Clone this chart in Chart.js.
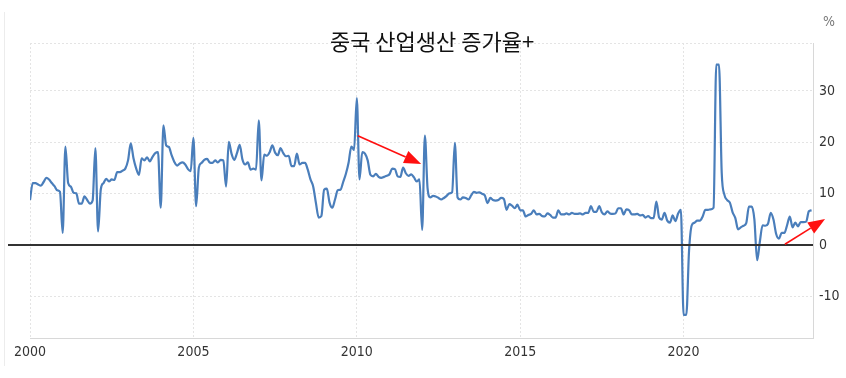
<!DOCTYPE html>
<html>
<head>
<meta charset="utf-8">
<script src="https://cdn.jsdelivr.net/npm/chart.js@4.4.1/dist/chart.umd.min.js"></script>
<style>
  html, body { margin: 0; padding: 0; background: #fff; }
  canvas { display: block; }
</style>
</head>
<body>
<canvas id="ipChart" width="846" height="378"></canvas>
<script>
// China industrial production, YoY %, monthly, Jan..Dec per year
const y2000 = [8.8, 12.1, 12.1, 11.8, 11.6, 12.3, 13.1, 12.8, 12.1, 11.5, 10.7, 10.4];
const y2001 = [2.4, 19.2, 12.1, 11.4, 10.2, 10.1, 8.1, 8.1, 9.5, 8.8, 8.1, 8.7];
const y2002 = [18.9, 2.7, 10.9, 12.1, 12.9, 12.4, 12.8, 12.7, 14.2, 14.2, 14.5, 14.9];
const y2003 = [16.5, 19.8, 16.9, 14.9, 13.7, 16.9, 16.5, 17.1, 16.3, 17.2, 17.9, 18.1];
const y2004 = [7.3, 23.3, 19.4, 19.1, 17.5, 16.2, 15.5, 15.9, 16.1, 15.7, 14.8, 14.4];
const y2005 = [20.9, 7.6, 15.1, 16.0, 16.6, 16.8, 16.1, 16.0, 16.5, 16.1, 16.6, 16.5];
const y2006 = [11.4, 20.1, 17.8, 16.6, 17.9, 19.5, 16.7, 15.7, 16.1, 14.7, 14.9, 14.7];
const y2007 = [24.3, 12.6, 17.6, 17.4, 18.1, 19.4, 18.0, 17.5, 18.9, 17.9, 17.3, 17.4];
const y2008 = [15.4, 15.4, 17.8, 15.7, 16.0, 16.0, 14.7, 12.8, 11.4, 8.2, 5.4, 5.7];
const y2009 = [10.8, 11.0, 8.3, 7.3, 8.9, 10.7, 10.8, 12.3, 13.9, 16.1, 19.2, 18.5];
const y2010 = [28.6, 12.8, 18.1, 17.8, 16.5, 13.7, 13.4, 13.9, 13.3, 13.1, 13.3, 13.5];
const y2011 = [13.8, 14.9, 14.8, 13.4, 13.3, 15.1, 14.0, 13.5, 13.8, 13.2, 12.4, 12.8];
const y2012 = [3.0, 21.3, 11.0, 9.3, 9.6, 9.5, 9.2, 8.9, 9.2, 9.6, 10.1, 10.3];
const y2013 = [19.9, 9.3, 8.9, 9.3, 9.2, 8.9, 9.7, 10.4, 10.2, 10.3, 10.0, 9.7];
const y2014 = [8.2, 9.2, 8.8, 8.7, 8.8, 9.2, 9.0, 6.9, 8.0, 7.7, 7.2, 7.9];
const y2015 = [6.8, 6.8, 5.6, 5.9, 6.1, 6.8, 6.0, 6.1, 5.7, 5.6, 6.2, 5.9];
const y2016 = [5.4, 5.4, 6.8, 6.0, 6.0, 6.2, 6.0, 6.3, 6.1, 6.1, 6.2, 6.0];
const y2017 = [6.3, 6.3, 7.6, 6.5, 6.5, 7.6, 6.4, 6.0, 6.6, 6.2, 6.1, 6.2];
const y2018 = [7.2, 7.2, 6.0, 7.0, 6.8, 6.0, 6.0, 6.1, 5.8, 5.9, 5.4, 5.7];
const y2019 = [5.3, 5.3, 8.5, 5.4, 5.0, 6.3, 4.8, 4.4, 5.8, 4.7, 6.2, 6.9];
const y2020 = [-13.5, -13.5, -1.1, 3.9, 4.4, 4.8, 4.8, 5.6, 6.9, 6.9, 7.0, 7.3];
const y2021 = [35.1, 35.1, 14.1, 9.8, 8.8, 8.3, 6.4, 5.3, 3.1, 3.5, 3.8, 4.3];
const y2022 = [7.5, 7.5, 5.0, -2.9, 0.7, 3.9, 3.8, 4.2, 6.3, 5.0, 2.2, 1.3];
const y2023 = [2.4, 2.4, 3.9, 5.6, 3.5, 4.4, 3.7, 4.5, 4.5, 4.6, 6.6, 6.8];

const startYear = 2000;
const series = [y2000, y2001, y2002, y2003, y2004, y2005, y2006, y2007, y2008, y2009, y2010, y2011,
                y2012, y2013, y2014, y2015, y2016, y2017, y2018, y2019, y2020, y2021, y2022, y2023];

const yearTicks = [2000, 2005, 2010, 2015, 2020];
const valueTicks = [-10, 0, 10, 20, 30];
const xMin = 2000, xMax = 2023.96;
const yMin = -18, yMax = 39.3;

const titleText = '중국 산업생산 증가율+';
const unitText = '%';

// red arrows, in data units [year, value]
const arrows = [
    { from: [2010.03, 21.3], to: [2011.97, 15.8] },
    { from: [2023.10, 0.2], to: [2024.33, 5.1] }
];

const points = [];
series.forEach(function (vals, i) {
    vals.forEach(function (v, j) {
        points.push({ x: startYear + i + j / 12, y: v });
    });
});

const tickFont = { family: "'Liberation Sans Narrow', 'Arial Narrow', 'DejaVu Sans Condensed', sans-serif", size: 14 };
const gridColor = '#e4e4e4';

const overlay = {
    id: 'overlay',
    afterDatasetsDraw(chart) {
        const c = chart.ctx;
        const xs = chart.scales.x, ys = chart.scales.y;
        const area = chart.chartArea;
        c.save();

        // faint frame line at the left
        c.strokeStyle = '#ececec';
        c.lineWidth = 1;
        c.beginPath();
        c.moveTo(4.5, 12);
        c.lineTo(4.5, 366);
        c.stroke();

        // zero line
        const y0 = Math.round(ys.getPixelForValue(0));
        c.strokeStyle = '#333';
        c.lineWidth = 2;
        c.beginPath();
        c.moveTo(8, y0);
        c.lineTo(area.right, y0);
        c.stroke();

        // arrows
        c.strokeStyle = '#ff1010';
        c.fillStyle = '#ff1010';
        arrows.forEach(function (a) {
            const x1 = xs.getPixelForValue(a.from[0]), y1 = ys.getPixelForValue(a.from[1]);
            const x2 = xs.getPixelForValue(a.to[0]), y2 = ys.getPixelForValue(a.to[1]);
            const ang = Math.atan2(y2 - y1, x2 - x1);
            const len = 17, half = 6.5;
            const bx = x2 - len * Math.cos(ang), by = y2 - len * Math.sin(ang);
            c.lineWidth = 1.6;
            c.beginPath();
            c.moveTo(x1, y1);
            c.lineTo(bx, by);
            c.stroke();
            c.beginPath();
            c.moveTo(x2, y2);
            c.lineTo(bx + half * Math.sin(ang), by - half * Math.cos(ang));
            c.lineTo(bx - half * Math.sin(ang), by + half * Math.cos(ang));
            c.closePath();
            c.fill();
        });

        // title
        c.fillStyle = '#111';
        c.font = "22px 'Noto Sans CJK KR', sans-serif";
        c.textAlign = 'center';
        c.textBaseline = 'middle';
        c.fillText(titleText, 432, 42);

        // unit
        c.fillStyle = '#777';
        c.font = "14px 'Liberation Sans Narrow', 'Arial Narrow', 'DejaVu Sans Condensed', sans-serif";
        c.textAlign = 'left';
        c.fillText(unitText, 823, 22);

        c.restore();
    }
};

new Chart(document.getElementById('ipChart'), {
    type: 'line',
    data: {
        datasets: [{
            label: 'IP YoY',
            data: points,
            borderColor: '#4a7ebb',
            borderWidth: 2.2,
            pointRadius: 0,
            cubicInterpolationMode: 'monotone',
            fill: false
        }]
    },
    options: {
        responsive: false,
        animation: false,
        devicePixelRatio: 1,
        layout: { padding: { left: 30, top: 43, right: 0, bottom: 0 } },
        plugins: {
            legend: { display: false },
            tooltip: { enabled: false },
            title: { display: false }
        },
        scales: {
            x: {
                type: 'linear',
                min: xMin,
                max: xMax,
                afterBuildTicks: function (s) { s.ticks = yearTicks.map(function (v) { return { value: v }; }); },
                afterFit: function (s) { s.height = 40; },
                ticks: {
                    callback: function (v) { return String(v); },
                    color: '#333',
                    font: tickFont,
                    padding: 6,
                    maxRotation: 0,
                    autoSkip: false
                },
                grid: { color: gridColor, drawTicks: false },
                border: { display: true, color: '#d8d8d8', dash: [2, 2] }
            },
            y: {
                position: 'right',
                min: yMin,
                max: yMax,
                afterBuildTicks: function (s) { s.ticks = valueTicks.concat([yMax]).map(function (v) { return { value: v }; }); },
                afterFit: function (s) { s.width = 33; },
                ticks: {
                    callback: function (v) { return valueTicks.indexOf(v) >= 0 ? String(v) : ''; },
                    color: '#333',
                    font: tickFont,
                    padding: 6
                },
                grid: { color: gridColor, drawTicks: false },
                border: { display: true, color: '#d8d8d8', dash: [2, 2] }
            }
        }
    },
    plugins: [overlay]
});
</script>
</body>
</html>
